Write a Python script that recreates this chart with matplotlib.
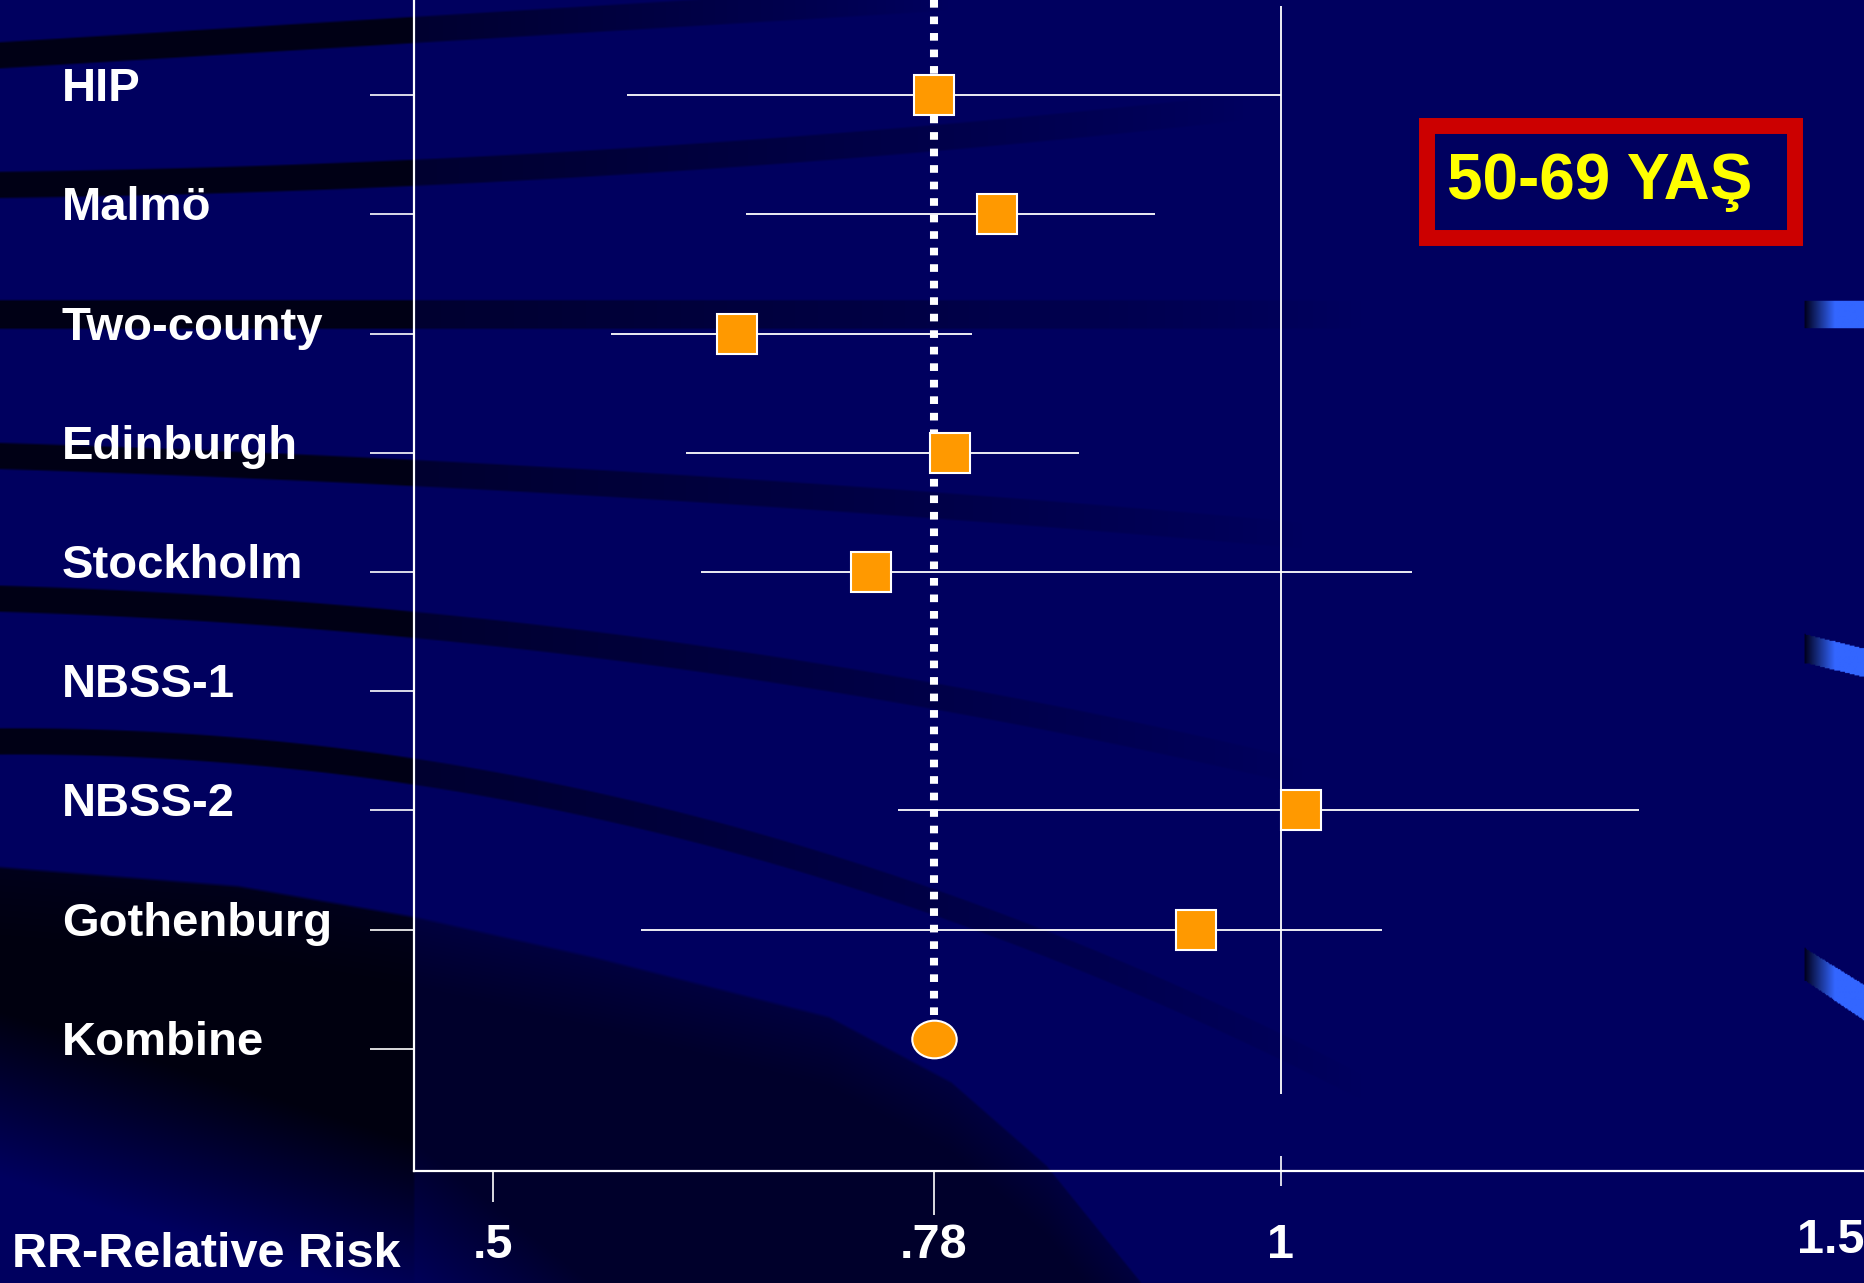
import numpy as np
import matplotlib.pyplot as plt
from matplotlib.patches import Rectangle
from matplotlib.path import Path
from matplotlib.transforms import blended_transform_factory

plt.rcParams['font.family'] = ['Liberation Sans', 'DejaVu Sans']
plt.rcParams['font.weight'] = 'bold'

# data
studies = ["HIP", "Malmö", "Two-county", "Edinburgh", "Stockholm",
           "NBSS-1", "NBSS-2", "Gothenburg", "Kombine"]
rr = [0.78, 0.82, 0.655, 0.79, 0.74, np.nan, 1.013, 0.946, np.nan]
ci_low = [0.585, 0.661, 0.575, 0.623, 0.632, np.nan, 0.757, 0.594, np.nan]
ci_high = [1.0, 0.92, 0.804, 0.872, 1.083, np.nan, 1.227, 1.064, np.nan]
pooled = 0.78
tick_vals = [0.5, 0.78, 1.0]
tick_labels = [".5", ".78", "1"]
age_group = "50-69 YAŞ"

W, H = 1568, 1079   # layout grid used for placement (scaled to output)
navy = np.array([0.0, 0.0, 0.376])

fig = plt.figure(figsize=(18.64, 12.83), dpi=100)
fig.patch.set_facecolor(navy)

# ---- background: navy with dark swooshes and blue ribbons ----
yy, xx = np.mgrid[0:H, 0:W].astype(float)
f = np.ones((H, W))
spine_x = 348
# dark swooshes are dimmer inside the plot frame
inside = np.clip((xx - spine_x) + 0.5, 0, 1)


def smooth_curve(cx, cy):
    coef = np.polyfit(cx, cy, min(2, len(cx) - 1))
    return np.polyval(coef, xx)


def band(cx, cy, half, xend, strength=0.78, inner=0.5):
    yc = smooth_curve(cx, cy)
    m = np.clip((half - np.abs(yy - yc)) / 2.0 + 0.5, 0, 1)
    fade = np.clip((xend - xx) / (xend - spine_x), 0, 1) ** 0.8
    s = strength * (1 - inside) + inner * fade * inside
    return 1 - s * m


f *= band([0, 261, 590], [46, 30, 10], 11, 800)
f *= band([0, 589, 950], [155, 131, 100], 11, 1050)
f *= band([0, 600, 1100], [264, 264, 264], 12, 1150)
f *= band([0, 751, 1051], [383, 422, 446], 11, 1100)
f *= band([0, 751, 1051], [503, 579, 639], 11, 1100)
f *= band([0, 375, 751, 1081], [622, 656, 743, 883], 11, 1150)

# big dark sweep in the lower left
U = np.interp(xx, [0, 200, 349, 500, 697, 800, 880, 960],
              [729, 745, 771, 805, 855, 910, 980, 1079])
L = np.interp(xx, [0, 350, 600], [990, 1100, 1300])
m_up = np.clip((yy - U) / 3 + 0.5, 0, 1)
m_lo = np.clip((L - yy) / 140, 0, 1)
core = np.clip((yy - U) / 60, 0, 1)
s_big = (0.72 + 0.12 * core) * (1 - inside) + (0.35 + 0.2 * core) * inside
f *= 1 - s_big * m_up * m_lo

img = f[..., None] * navy[None, None, :]

blue = np.array([0.2, 0.4, 1.0])
dark = np.array([0.0, 0.0, 0.12])
for top, bot in [([253, 253], [275, 275]),
                 ([533, 545], [557, 569]),
                 ([797, 828], [824, 858])]:
    yt = np.interp(xx, [1518, 1568], top)
    ybt = np.interp(xx, [1518, 1568], bot)
    m = (yy >= yt) & (yy <= ybt) & (xx >= 1518)
    w = np.clip((xx - 1518) / 25.0, 0, 1)[..., None]
    col = dark * (1 - w) + blue * w
    img = np.where(m[..., None], col, img)

bg = fig.add_axes([0, 0, 1, 1], zorder=0)
bg.imshow(img, extent=(0, W, H, 0), aspect='auto', interpolation='bilinear')
bg.set_xlim(0, W)
bg.set_ylim(H, 0)
bg.axis('off')

# ---- forest plot ----
ax = fig.add_axes([spine_x / W, 1 - 985 / H, 1 - spine_x / W, 985 / H],
                  zorder=2)
ax.set_facecolor('none')
rows = np.arange(len(studies))
ax.set_xlim(0.450, 1.370)
ax.set_ylim(9.027, -0.798)

for side in ['top', 'right']:
    ax.spines[side].set_visible(False)
for side in ['left', 'bottom']:
    ax.spines[side].set_color('white')
    ax.spines[side].set_linewidth(1.6)

# reference line at 1 and pooled estimate
ax.vlines(1.0, -0.75, 8.38, colors='white', linewidth=1.3)
ax.vlines(pooled, -0.8, 7.9, colors='white', linewidth=5.8,
          linestyles=(0, (0.95, 1.1)))

ax.hlines(rows, ci_low, ci_high, colors='white', linewidth=1.3)
ax.plot(rr, rows, 's', markersize=29, markerfacecolor='#FF9900',
        markeredgecolor='white', markeredgewidth=1.5, linestyle='none')

circ = Path.unit_circle()
ellipse = Path(circ.vertices * np.array([1.18, 1.0]), circ.codes)
ax.plot([pooled], [rows[-1] - 0.08], marker=ellipse, markersize=32,
        markerfacecolor='#FF9900', markeredgecolor='white',
        markeredgewidth=1.5, linestyle='none')

# y ticks and labels
ax.set_yticks(rows)
ax.set_yticklabels([])
ax.tick_params(axis='y', length=32, width=1.2, color='white')
tr = blended_transform_factory(fig.transFigure, ax.transData)
for r, name in zip(rows, studies):
    ax.text(52 / W, r - 0.05, name, transform=tr, ha='left', va='center',
            color='white', fontsize=34, fontweight='bold')

# x ticks
ax.set_xticks(tick_vals)
ax.set_xticklabels(tick_labels)
ax.tick_params(axis='x', length=32, width=1.2, color='white', pad=5,
               labelcolor='white', labelsize=35)
xt = ax.xaxis.get_major_ticks()
xt[0].tick1line.set_markersize(22)
xt[2].tick1line.set_marker('|')
xt[2].tick1line.set_markersize(22)

ax.text(1.0, (985 - 1043) / 985, "1.5", transform=ax.transAxes,
        ha='right', va='center', color='white', fontsize=35,
        fontweight='bold')
fig.text(10 / W, 1 - 1055 / H, "RR-Relative Risk", ha='left', va='center',
         color='white', fontsize=35, fontweight='bold')

# age group box
fig.add_artist(Rectangle((1427 / 1864, 1 - 238 / 1283), 368 / 1864,
                         112 / 1283, transform=fig.transFigure, fill=False,
                         edgecolor='#CC0000', linewidth=11.5, zorder=5))
fig.text(1447 / 1864, 1 - 199 / 1283, age_group, ha='left', va='baseline',
         color='#FFFF00', fontsize=46, fontweight='bold', zorder=6)

fig.savefig('out.png', dpi=100, facecolor=fig.get_facecolor())
